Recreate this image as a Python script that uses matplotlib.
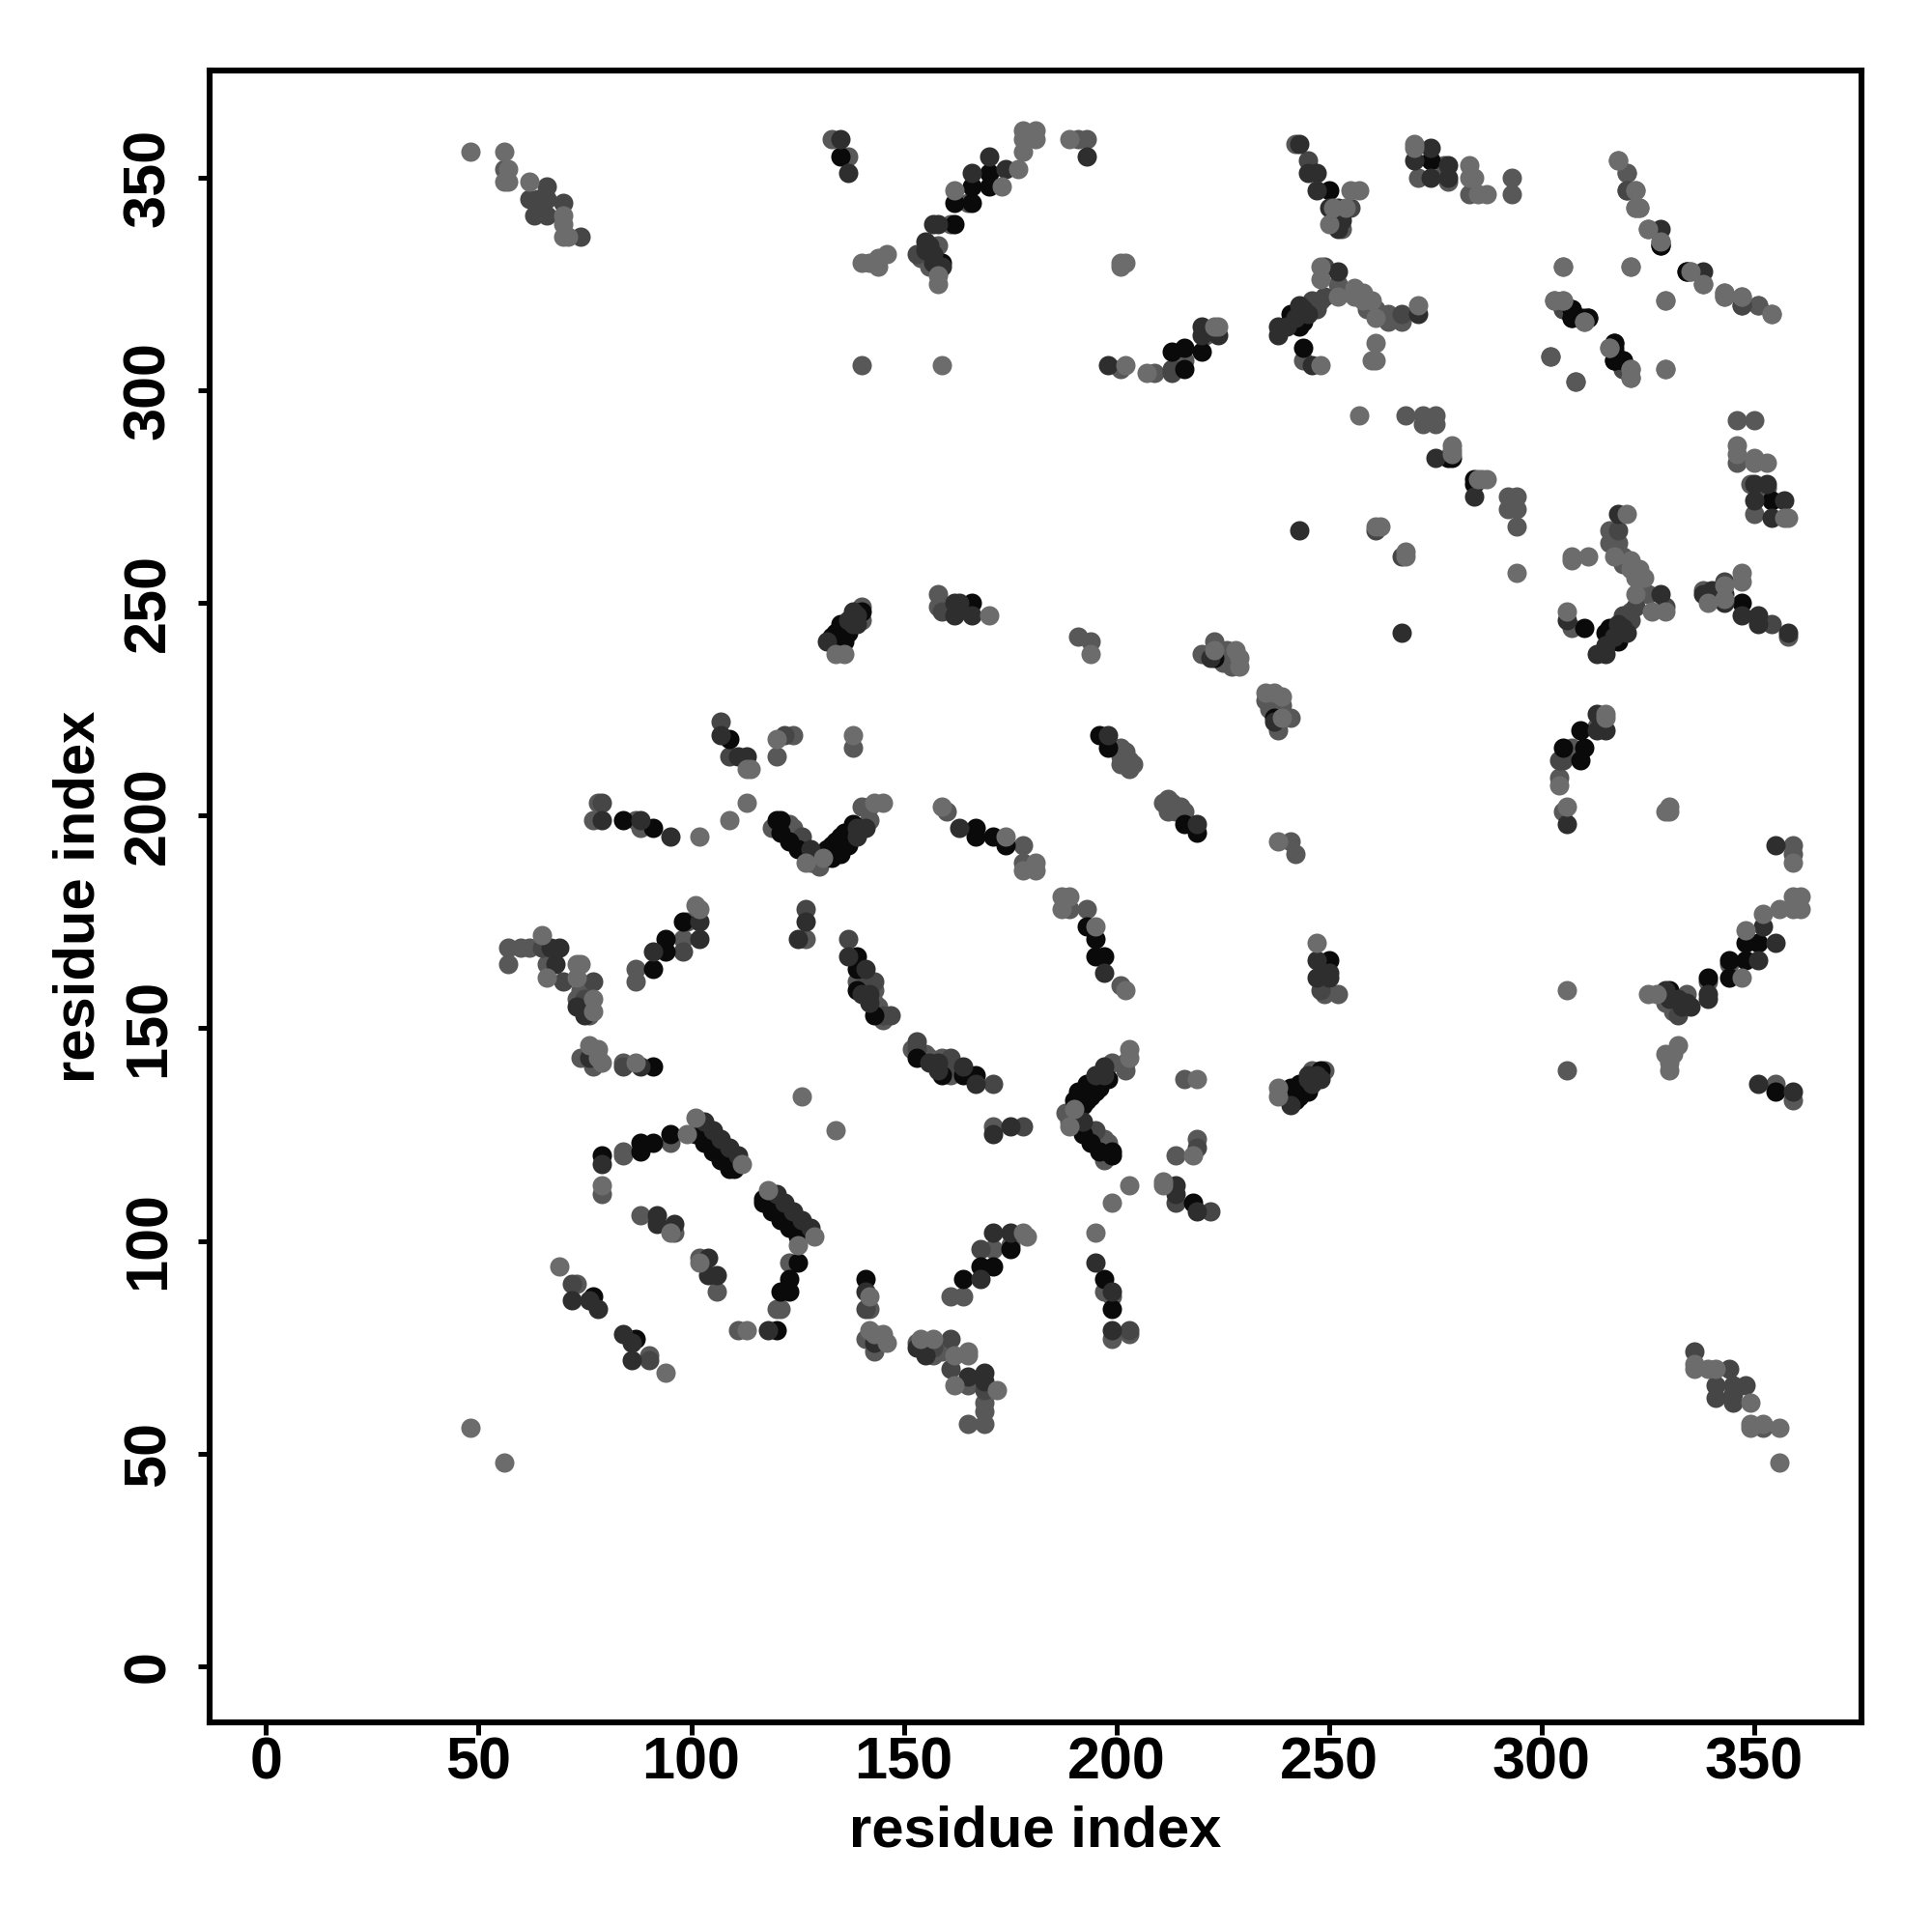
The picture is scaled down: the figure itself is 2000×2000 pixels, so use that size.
import matplotlib
matplotlib.use("Agg")
import matplotlib.pyplot as plt

# contacts (i < j) by gray tone, the map is symmetric so each one is drawn twice
black_pairs = [(135,355),(170,351),(170,348),(166,348),(162,344),(166,344),(162,339),(159,330),(213,309),(216,310),
    (216,305),(220,309),(250,347),(274,354),(328,334),(334,328),(307,319),(307,317),(311,317),(309,317),(317,311),
    (317,310),(317,307),(319,307),(244,310),(243,318),(244,316),(243,315),(278,284),(279,284),(121,199),(120,199),
    (121,196),(123,194),(125,192),(133,191),(135,191),(134,194),(137,193),(136,196),(138,198),(133,190),(84,199),
    (91,197),(109,218),(139,167),(139,164),(139,159),(143,153),(91,164),(94,171),(94,168),(98,175),(79,120),(88,123),
    (88,121),(91,123),(95,125),(101,125),(103,123),(105,121),(107,119),(109,117),(110,117),(77,87),(140,248),(135,245),
    (135,243),(133,242),(136,241),(134,241),(166,250),(196,219),(198,216),(167,197),(167,195),(171,195),(174,193),
    (91,141),(223,237),(132,192),(133,193),(135,195),(136,194),(138,196),(136,244),(137,243),(134,243),(241,316),
    (241,318)]
dark_pairs = [(135,359),(137,351),(170,355),(174,352),(166,351),(157,339),(158,339),(155,335),(155,333),(159,329),
    (193,355),(198,306),(220,313),(220,315),(224,313),(238,315),(238,313),(243,358),(245,351),(247,351),(247,347),
    (250,343),(252,343),(253,340),(252,338),(274,357),(270,354),(278,353),(274,350),(278,350),(328,338),(240,315),
    (245,318),(242,317),(246,306),(252,328),(271,318),(243,267),(275,284),(138,248),(137,246),(132,241),(162,247),
    (163,250),(162,250),(166,247),(198,219),(79,199),(88,199),(95,195),(111,214),(113,214),(107,219),(127,175),
    (125,171),(137,167),(141,164),(140,158),(91,168),(102,175),(102,171),(68,165),(69,169),(67,169),(75,153),(73,155),
    (76,143),(88,141),(79,118),(103,128),(105,126),(107,124),(109,122),(111,120),(92,106),(92,104),(96,104),(72,86),
    (76,86),(78,84),(141,197),(139,195),(128,192),(163,197),(222,237),(138,245),(139,247),(139,245),(156,334),(157,332),
    (157,330),(142,158),(142,156),(243,320),(244,319),(139,197)]
darkmid_pairs = [(66,348),(66,345),(63,341),(66,341),(62,345),(64,345),(70,344),(74,336),(153,332),(213,305),(213,304),
    (245,354),(249,329),(249,322),(247,320),(247,319),(255,343),(305,319),(320,347),(319,305),(347,320),(267,318),
    (122,219),(109,214),(107,222),(79,203),(127,178),(137,171),(143,161),(145,153),(147,153),(98,168),(70,161),(77,161),
    (65,169),(84,141),(72,90),(126,195),(159,248),(261,267),(246,321),(141,160),(75,157),(76,155)]
mid_pairs = [(56,352),(133,359),(137,355),(140,306),(191,359),(193,359),(158,334),(154,331),(158,328),(201,305),(209,304),
    (221,313),(216,307),(242,358),(252,325),(253,338),(271,350),(277,353),(278,349),(283,346),(293,350),(293,346),
    (320,351),(328,335),(338,325),(351,320),(321,303),(302,308),(308,302),(268,294),(272,294),(272,292),(275,294),
    (275,292),(259,319),(261,319),(264,318),(264,316),(267,316),(77,199),(78,203),(87,199),(88,197),(120,214),(124,219),
    (138,216),(57,169),(57,165),(60,169),(62,169),(66,165),(73,157),(87,164),(87,161),(98,171),(99,175),(127,171),
    (143,159),(143,156),(145,152),(139,161),(74,143),(77,141),(84,142),(79,111),(84,120),(84,121),(95,123),(88,106),
    (73,90),(140,249),(140,246),(158,252),(158,249),(191,242),(194,241),(220,238),(223,241),(226,239),(227,235),(225,236),
    (201,216),(201,214),(201,212),(203,211),(124,197),(123,198),(119,197),(142,199),(140,202),(142,202),(129,190),
    (130,188),(128,189),(161,339),(165,344),(160,201),(178,193),(178,189),(96,102),(244,307),(140,162),(144,155),(156,329),
    (202,215),(202,213),(203,213),(204,212),(248,321),(74,159),(76,153)]
light_pairs = [(48,356),(56,356),(57,352),(56,349),(57,349),(62,349),(70,341),(70,339),(70,336),(71,336),(140,330),(142,330),
    (144,329),(144,331),(146,332),(178,361),(181,361),(181,359),(178,359),(178,356),(177,352),(173,348),(162,347),(159,306),
    (158,327),(158,325),(189,359),(201,330),(202,330),(201,329),(202,306),(207,304),(223,315),(224,315),(255,347),(257,347),
    (254,343),(250,339),(270,358),(270,357),(283,353),(283,350),(284,350),(285,346),(287,346),(318,354),(322,347),(322,343),
    (323,343),(325,338),(321,329),(305,329),(329,321),(335,328),(343,323),(343,322),(347,322),(354,318),(303,321),(305,321),
    (310,316),(316,310),(321,305),(329,305),(248,329),(248,326),(252,322),(251,343),(256,324),(258,323),(256,322),(260,321),
    (258,321),(261,317),(271,320),(248,306),(261,311),(261,307),(260,307),(257,294),(279,287),(279,286),(279,285),(261,268),
    (262,268),(134,238),(136,238),(170,247),(194,238),(223,239),(228,239),(229,237),(229,235),(113,211),(114,211),(120,218),
    (138,219),(102,195),(109,199),(113,203),(143,203),(145,203),(127,189),(131,190),(159,202),(174,195),(178,187),(181,189),
    (181,187),(65,172),(66,162),(74,165),(73,165),(73,162),(77,157),(77,154),(101,179),(102,178),(76,146),(78,145),(78,143),
    (79,142),(87,142),(126,134),(79,113),(99,125),(101,129),(95,102),(69,94),(112,118),(48,56)]

tick_values = [0, 50, 100, 150, 200, 250, 300, 350]

plt.rcParams['font.family'] = ['Liberation Sans', 'DejaVu Sans']

fig = plt.figure(figsize=(10, 10), dpi=200)
ax = fig.add_axes([0.1084, 0.1085, 0.8553, 0.8551])

# mids under the dark dots, only the lightest ones sit on top
tones = [(mid_pairs, '#585858'), (darkmid_pairs, '#464646'), (black_pairs, '#0a0a0a'),
         (dark_pairs, '#2e2e2e'), (light_pairs, '#6c6c6c')]
for pairs, colour in tones:
    i = [p[0] for p in pairs]
    j = [p[1] for p in pairs]
    ax.scatter(i + j, j + i, s=52, c=colour, linewidths=0, zorder=3)

ax.set_xlim(-13.3, 375.3)
ax.set_ylim(-13.2, 375.2)
ax.set_xticks(tick_values)
ax.set_yticks(tick_values)
ax.tick_params(length=4.5, width=1.8, labelsize=22)
ax.tick_params(axis='x', pad=0.8)
ax.tick_params(axis='y', pad=7.5)
for lab in ax.get_xticklabels() + ax.get_yticklabels():
    lab.set_fontweight('bold')
for lab in ax.get_yticklabels():
    lab.set_rotation(90)
    lab.set_verticalalignment('center')
for sp in ax.spines.values():
    sp.set_linewidth(2.2)

ax.set_xlabel("residue index", fontsize=21.5, fontweight='bold', labelpad=5)
ax.set_ylabel("residue index", fontsize=21.5, fontweight='bold', labelpad=6)

fig.savefig("out.png", dpi=200)
